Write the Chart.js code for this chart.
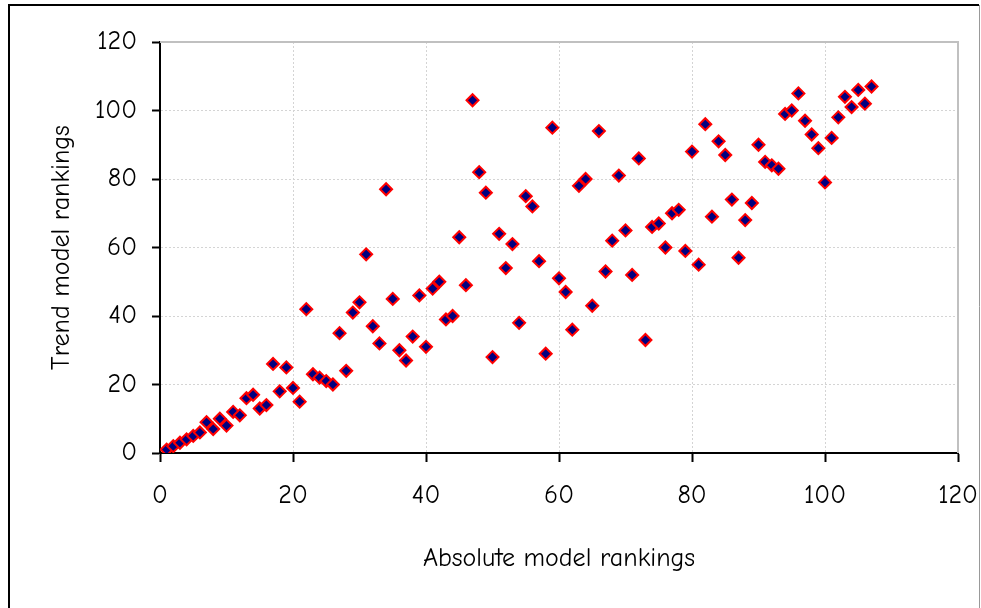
<!DOCTYPE html>
<html>
<head>
<meta charset="utf-8">
<script src="https://cdn.jsdelivr.net/npm/chart.js@4/dist/chart.umd.min.js"></script>
<style>
  body { margin: 0; background: #fff; }
  canvas { display: block; }
</style>
</head>
<body>
<canvas id="rankChart" width="981" height="608"></canvas>
<script>
// absolute ranking of each model (x) and its ranking under the trend model (y)
var absoluteRank = [];
for (var i = 1; i <= 107; i++) absoluteRank.push(i);
var trendRank = [
  1, 2, 3, 4, 5, 6, 9, 7, 10, 8,
  12, 11, 16, 17, 13, 14, 26, 18, 25, 19,
  15, 42, 23, 22, 21, 20, 35, 24, 41, 44,
  58, 37, 32, 77, 45, 30, 27, 34, 46, 31,
  48, 50, 39, 40, 63, 49, 103, 82, 76, 28,
  64, 54, 61, 38, 75, 72, 56, 29, 95, 51,
  47, 36, 78, 80, 43, 94, 53, 62, 81, 65,
  52, 86, 33, 66, 67, 60, 70, 71, 59, 88,
  55, 96, 69, 91, 87, 74, 57, 68, 73, 90,
  85, 84, 83, 99, 100, 105, 97, 93, 89, 79,
  92, 98, 104, 101, 106, 102, 107
];
var axisTicks = [0, 20, 40, 60, 80, 100, 120];

var points = absoluteRank.map(function (x, i) { return { x: x, y: trendRank[i] }; });

var font = "'Comic Sans MS', 'Comic Neue', 'Open Sans', sans-serif";

// frame round the chart and the grey edge of the plot area
var framePlugin = {
  id: 'frame',
  afterDraw: function (chart) {
    var c = chart.ctx, a = chart.chartArea;
    c.save();
    c.strokeStyle = '#c0c0c0';
    c.lineWidth = 2;
    c.beginPath();
    c.moveTo(a.left, a.top);
    c.lineTo(a.right, a.top);
    c.lineTo(a.right, a.bottom);
    c.stroke();
    c.strokeStyle = '#000';
    c.lineWidth = 2;
    c.beginPath();
    c.moveTo(9, 608);
    c.lineTo(9, 5);
    c.lineTo(979, 5);
    c.stroke();
    c.strokeStyle = '#999';
    c.lineWidth = 1;
    c.beginPath();
    c.moveTo(979.5, 5);
    c.lineTo(979.5, 608);
    c.stroke();
    c.restore();
  }
};

var gridColor = function (ctx) {
  return ctx.tick && ctx.tick.value === 120 ? 'rgba(0,0,0,0)' : '#d4d4d4';
};

new Chart(document.getElementById('rankChart').getContext('2d'), {
  type: 'scatter',
  data: {
    datasets: [{
      data: points,
      pointStyle: 'rectRot',
      pointRadius: 6,
      pointHoverRadius: 6,
      backgroundColor: '#000080',
      borderColor: '#ff0000',
      borderWidth: 2
    }]
  },
  plugins: [framePlugin],
  options: {
    responsive: false,
    animation: false,
    layout: { padding: { left: 10, right: 23, top: 42, bottom: 0 } },
    plugins: { legend: { display: false }, tooltip: { enabled: false } },
    scales: {
      x: {
        type: 'linear',
        min: 0, max: 120,
        afterBuildTicks: function (s) { s.ticks = axisTicks.map(function (v) { return { value: v }; }); },
        afterFit: function (s) { s.height = 155; s.paddingLeft = 0; s.paddingRight = 0; },
        ticks: { color: '#000', font: { family: font, size: 26 }, padding: 18, maxRotation: 0 },
        grid: { color: gridColor, tickColor: '#000', tickLength: 9, lineWidth: 1, tickWidth: 2 },
        border: { color: '#000', width: 2, dash: [2, 2] },
        title: { display: true, text: 'Absolute model rankings', color: '#000',
                 font: { family: font, size: 26 }, padding: { top: 0, bottom: 34 } }
      },
      y: {
        type: 'linear',
        min: 0, max: 120,
        afterBuildTicks: function (s) { s.ticks = axisTicks.map(function (v) { return { value: v }; }); },
        afterFit: function (s) { s.width = 150; s.paddingTop = 0; s.paddingBottom = 0; },
        ticks: { color: '#000', font: { family: font, size: 26 }, padding: 15 },
        grid: { color: gridColor, tickColor: '#000', tickLength: 8, lineWidth: 1, tickWidth: 2 },
        border: { color: '#000', width: 2, dash: [2, 2] },
        title: { display: true, text: 'Trend model rankings', color: '#000',
                 font: { family: font, size: 26 }, padding: { top: 36, bottom: 0 } }
      }
    }
  }
});
</script>
</body>
</html>
